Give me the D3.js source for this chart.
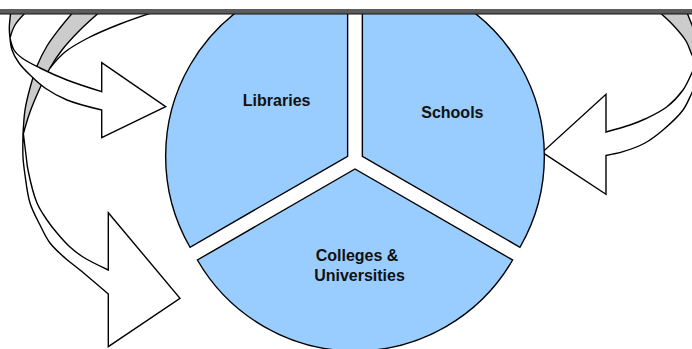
<!DOCTYPE html>
<html>
<head>
  <meta http-equiv="Content-Type" content="text/html;charset=utf-8">
  <title>Pie with arrows</title>
  <script src="https://d3js.org/d3.v7.min.js"></script>
  <style type="text/css">
    body { margin: 0; background: #fff; }
    .edge { fill: none; stroke: #000; stroke-width: 1.4px; }
    .label { font-family: "Liberation Sans", Arial, sans-serif; font-weight: bold; font-size: 16px; fill: #111; }
  </style>
</head>
<body>
  <svg width="692" height="349"></svg>
  <script type='text/javascript'>
    // data
    const categories = ['Libraries', 'Schools', 'Colleges & Universities'];
    const values = [1, 1, 1];

    // layout
    const width = 692, height = 349;
    const cx = 355, cy = 160.5, radius = 182, explode = 8.5;
    const labelShift = [[-71, -50], [90, -38], [2, 92]];

    const svg = d3.select('svg');
    svg.append('clipPath').attr('id', 'below-bar')
      .append('rect').attr('x', 0).attr('y', 14).attr('width', width).attr('height', height - 14);

    const g = svg.append('g').attr('clip-path', 'url(#below-bar)');

    const smooth = d3.line().curve(d3.curveCatmullRom.alpha(0.5));
    // closed ribbon: edge a, straight segments through the head, edge b back
    function ribbon(a, head, b) {
      let d = smooth(a);
      head.forEach(p => { d += 'L' + p[0] + ',' + p[1]; });
      d += smooth(b).replace(/^M/, 'L');
      return d + 'Z';
    }

    // lower left arrow: grey back face from the top, twist, then white face to the head
    g.append('path')
      .attr('d', ribbon(
        [[75, 10], [60, 28], [47, 46], [37, 66], [30, 88], [25, 110], [23, 135]],
        [],
        [[23, 135], [30, 112], [40, 88], [50, 68], [62, 50], [80, 30], [102, 10]]))
      .attr('class', 'edge').style('fill', '#cccccc');

    g.append('path')
      .attr('d', smooth([[160, 10], [120, 24], [88, 38], [65, 52], [50, 68]]))
      .attr('class', 'edge');

    g.append('path')
      .attr('d', ribbon(
        [[23, 135], [23, 157], [25, 175], [30, 203], [40, 225], [50, 243], [65, 258], [80, 270], [108.3, 294]],
        [[108.3, 346.7], [180, 298.3], [108.3, 212.7]],
        [[108.3, 270], [83, 257], [70, 247], [57, 233], [47, 220], [37, 203], [28, 170], [26, 155], [23.5, 135]]))
      .attr('class', 'edge').style('fill', '#fff');

    // upper left arrow
    g.append('path')
      .attr('d', ribbon(
        [[11, 10], [9.3, 28], [10, 38]],
        [],
        [[10, 38], [15, 25], [28, 10]]))
      .attr('class', 'edge').style('fill', '#cccccc');

    g.append('path')
      .attr('d', ribbon(
        [[10, 38], [14, 50], [22, 58], [40, 68], [67, 80], [101.7, 91.7]],
        [[101.7, 62.7], [165.7, 106.7], [101.7, 137.7]],
        [[101.7, 110], [67, 100], [45, 88], [30, 75], [19, 63], [12, 50], [10, 38]]))
      .attr('class', 'edge').style('fill', '#fff');

    // right arrow: grey back face in the corner, white face to the head
    g.append('path')
      .attr('d', ribbon(
        [[657, 10], [673, 25], [686, 41], [692, 55], [700, 70]],
        [],
        [[698, 40], [692, 25], [686, 10]]))
      .attr('class', 'edge').style('fill', '#cccccc');

    g.append('path')
      .attr('d', ribbon(
        [[700, 55], [691.7, 73.3], [683, 90], [667, 106.7], [645, 119], [630, 125], [606, 132]],
        [[606, 94.3], [542.3, 152.3], [606, 194.3]],
        [[606, 155.5], [623, 151.7], [645, 143], [663, 130], [683, 110], [691.7, 93.3], [700, 75]]))
      .attr('class', 'edge').style('fill', '#fff');

    // exploded pie
    const pie = d3.pie().sort(null)
      .startAngle(-2 * Math.PI / 3).endAngle(4 * Math.PI / 3);
    const arc = d3.arc().innerRadius(0).outerRadius(radius);
    const slices = pie(values);

    const sliceG = g.selectAll('g.slice')
      .data(slices)
      .enter().append('g')
        .attr('class', 'slice')
        .attr('transform', (d) => {
          const a = (d.startAngle + d.endAngle) / 2;
          return 'translate(' + (cx + explode * Math.sin(a)) + ',' + (cy - explode * Math.cos(a)) + ')';
        });

    sliceG.append('path')
      .attr('d', arc)
      .attr('fill', '#99ccff')
      .attr('stroke', '#000')
      .attr('stroke-width', 1.4)
      .attr('stroke-linejoin', 'miter');

    sliceG.append('text')
      .attr('class', 'label')
      .attr('text-anchor', 'middle')
      .attr('transform', (d, i) => 'translate(' + labelShift[i][0] + ',' + labelShift[i][1] + ')')
      .each(function (d, i) {
        const name = categories[i];
        const lines = name.includes('&') ? [name.slice(0, name.indexOf('&') + 1), name.slice(name.indexOf('&') + 2)] : [name];
        d3.select(this).selectAll('tspan')
          .data(lines)
          .enter().append('tspan')
            .attr('x', (t, j) => j * 2.5)
            .attr('dy', (t, j) => j === 0 ? 0 : 19.5)
            .text((t) => t);
      });

    // top rule
    svg.append('rect')
      .attr('x', 0).attr('y', 9).attr('width', width).attr('height', 5)
      .attr('fill', '#5c5c5c');
    svg.append('line')
      .attr('x1', 0).attr('x2', width).attr('y1', 14).attr('y2', 14)
      .attr('stroke', '#111').attr('stroke-width', 1.2);
  </script>
</body>
</html>
